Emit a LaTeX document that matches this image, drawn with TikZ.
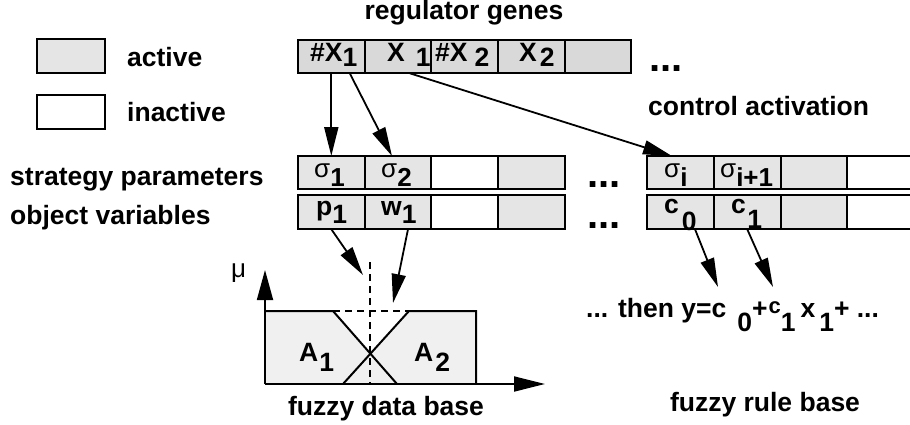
\documentclass[tikz,border=0pt]{standalone}
\usepackage{fontspec}
\setmainfont{Liberation Sans}
\usetikzlibrary{arrows.meta,calc}
\definecolor{topg}{gray}{0.85}
\definecolor{cellg}{gray}{0.9}
\definecolor{fuzg}{gray}{0.94}
\begin{document}
\begin{tikzpicture}[x=1pt,y=-1pt,
 txt/.style={font=\fontsize{26.5}{30}\selectfont\bfseries, inner sep=0pt},
 sym/.style={font=\fontsize{26}{30}\selectfont\mdseries, inner sep=0pt},
 cellbox/.style={draw, line width=2pt, minimum width=66.7pt, inner sep=0pt, outer sep=0pt},
 topcell/.style={cellbox, fill=topg, minimum height=33.3pt},
 oncell/.style={cellbox, fill=cellg, minimum height=33.3pt},
 offcell/.style={cellbox, fill=white, minimum height=33.3pt},
 conn/.style={line width=1.8pt, -{Triangle[length=29pt,width=14pt]}},
 dots/.style={font=\fontsize{40}{40}\selectfont\bfseries, inner sep=0pt},
 dsh/.style={line width=1.8pt, dash pattern=on 7pt off 5pt},
 curve/.style={line width=2pt},
]
\useasboundingbox (0,0) rectangle (910,425);
\clip (0,0) rectangle (910,425);

% legend
\node[oncell, minimum width=68.3pt, minimum height=34pt] (legact) at (70.8,56.3) {};
\node[offcell, minimum width=68.3pt, minimum height=34.3pt] (leginact) at (70.8,112.2) {};
\node[txt, anchor=base west] (tact) at (127,66.7) {active};
\node[txt, anchor=base west] (tinact) at (127,121.7) {inactive};

% regulator genes
\node[txt, anchor=base] (treg) at (464,20) {regulator genes};
\node[topcell] (g1) at (331.3,56.7) {};
\node[topcell] (g2) at (398,56.7) {};
\node[topcell] (g3) at (464.7,56.7) {};
\node[topcell] (g4) at (531.4,56.7) {};
\node[topcell] (g5) at (598.1,56.7) {};
\node[dots, anchor=base west] (dtop) at (649,72) {...};

% strategy parameters / object variables (left group)
\node[oncell] (s1) at (331.3,172.7) {};
\node[oncell] (s2) at (398,172.7) {};
\node[offcell] (s3) at (464.7,172.7) {};
\node[oncell] (s4) at (531.4,172.7) {};
\node[oncell, minimum height=34pt] (o1) at (331.3,212.2) {};
\node[oncell, minimum height=34pt] (o2) at (398,212.2) {};
\node[offcell, minimum height=34pt] (o3) at (464.7,212.2) {};
\node[oncell, minimum height=34pt] (o4) at (531.4,212.2) {};
\node[dots, anchor=base west] (dmid1) at (587,187) {...};
\node[dots, anchor=base west] (dmid2) at (587,228) {...};

% right group
\node[oncell] (r1) at (680.5,172.7) {};
\node[oncell] (r2) at (747.2,172.7) {};
\node[oncell] (r3) at (813.9,172.7) {};
\node[offcell] (r4) at (880.6,172.7) {};
\node[oncell, minimum height=34pt] (ro1) at (680.5,212.2) {};
\node[oncell, minimum height=34pt] (ro2) at (747.2,212.2) {};
\node[oncell, minimum height=34pt] (ro3) at (813.9,212.2) {};
\node[offcell, minimum height=34pt] (ro4) at (880.6,212.2) {};

% side labels
\node[txt, anchor=base west] (tstrat) at (10,185) {strategy parameters};
\node[txt, anchor=base west] (tobj) at (10,224) {object variables};
\node[txt, anchor=base west] (tctrl) at (648,116) {control activation};

% fuzzy data base plot
\fill[fuzg] (265,311) -- (333,311) -- (370,354) -- (409,311) -- (476,311) -- (476,384) -- (265,384) -- cycle;
\draw[curve] (265,311) -- (333,311) -- (397,384);
\draw[curve] (343,384) -- (409,311) -- (476,311) -- (476,384);
\draw[dsh] (333,311) -- (409,311);
\draw[dsh] (370,262) -- (370,384);
\coordinate (orig) at (265,384);
\coordinate (ytip) at (265,270);
\coordinate (xtip) at (545,384);
\draw[conn, -{Triangle[length=30pt,width=16pt]}] (orig) -- (ytip);
\draw[conn, -{Triangle[length=31pt,width=15pt]}] (orig) -- (xtip);
\node[sym, anchor=base west] (mu) at (231,277) {μ};
\node[txt, anchor=base west] (la1) at (299,361.7) {A\hspace{1pt}\raisebox{-10pt}{1}};
\node[txt, anchor=base west] (la2) at (414,361.7) {A\hspace{2pt}\raisebox{-10pt}{2}};
\node[txt, anchor=base] (tfdb) at (386,415) {fuzzy data base};

% rule
\node[txt, anchor=base west] (form) at (586,317) {... then y=c\hspace{11pt}\raisebox{-14pt}{0}+\hspace{1pt}\raisebox{4pt}{\fontsize{22}{22}\selectfont c}\raisebox{-14pt}{1}\hspace{5pt}x\hspace{4pt}\raisebox{-14pt}{1}+ ...};
\node[txt, anchor=base] (tfrb) at (765,411) {fuzzy rule base};

% connectors
\coordinate (pt1) at (363,275);
\coordinate (pt2) at (393,303);
\coordinate (pt3) at (718,287);
\coordinate (pt4) at (773,287);
\draw[conn] (g1.south) -- (s1.north);
\draw[conn] ($(g1.south)+(18.5,0)$) -- ($(s2.north)+(-6,0)$);
\draw[conn] ($(g2.south)+(12,0)$) -- ($(r1.north)+(-8.5,0)$);
\draw[conn] (o1.south) -- (pt1);
\draw[conn] ($(o2.south)+(10,0)$) -- (pt2);
\draw[conn] ($(ro1.south)+(14.5,0)$) -- (pt3);
\draw[conn] (ro2.south) -- (pt4);

% cell texts
\node[txt, anchor=base west] (lg1) at (310,62) {\#X\raisebox{-5pt}{1}};
\node[txt, anchor=base west] (lg2) at (387,62) {X\hspace{11pt}\raisebox{-5pt}{1}};
\node[txt, anchor=base west] (lg3) at (435,62) {\#X\hspace{7pt}\raisebox{-5pt}{2}};
\node[txt, anchor=base west] (lg4) at (519,62) {X\hspace{3pt}\raisebox{-5pt}{2}};
\node[sym, anchor=base west] (ls1) at (314,177) {σ\textbf{\raisebox{-9.5pt}{1}}};
\node[sym, anchor=base west] (ls2) at (381,177) {σ\textbf{\raisebox{-9.5pt}{2}}};
\node[sym, anchor=base west] (lr1) at (664,177) {σ\textbf{\raisebox{-9.5pt}{i}}};
\node[sym, anchor=base west] (lr2) at (720,177) {σ\textbf{\raisebox{-9.5pt}{i+1}}};
\node[txt, anchor=base west] (lo1) at (316,215) {p\raisebox{-8pt}{1}};
\node[txt, anchor=base west] (lo2) at (381,215) {w\raisebox{-8pt}{1}};
\node[txt, anchor=base west] (lro1) at (664,213) {c\hspace{3pt}\raisebox{-17pt}{0}};
\node[txt, anchor=base west] (lro2) at (731,213) {c\hspace{1.5pt}\raisebox{-15pt}{1}};
\end{tikzpicture}
\end{document}
